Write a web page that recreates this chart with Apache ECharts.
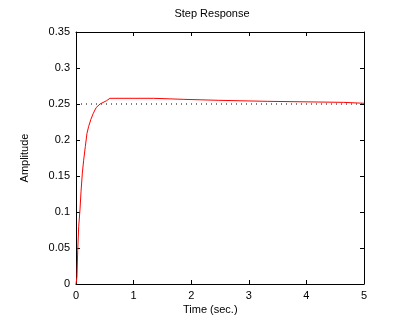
<!DOCTYPE html>
<html>
<head>
<meta charset="utf-8">
<script src="https://cdn.jsdelivr.net/npm/echarts@6/dist/echarts.min.js"></script>
<style>html,body{margin:0;padding:0;background:#fff;}#c{width:404px;height:327px;}</style>
</head>
<body>
<div id="c"></div>
<script>
var titleText = "Step Response";
var xLabel = "Time (sec.)";
var yLabel = "Amplitude";
var timeValues = [0, 0.017, 0.03, 0.047, 0.069, 0.087, 0.11, 0.133, 0.162, 0.19, 0.22, 0.26, 0.3, 0.35, 0.417, 0.53, 0.59, 1.34, 1.34, 1.86, 1.86, 2.48, 2.48, 3.33, 3.33, 4.64, 4.64, 5];
var responseValues = [0, 0.01, 0.047, 0.08, 0.103, 0.128, 0.154, 0.172, 0.191, 0.209, 0.219, 0.229, 0.237, 0.245, 0.25, 0.2546, 0.2579, 0.2579, 0.2565, 0.2565, 0.2551, 0.2551, 0.2537, 0.2537, 0.2523, 0.2523, 0.251, 0.251];
var finalValue = 0.25;
var xTicks = [0, 1, 2, 3, 4, 5];
var yTicks = [0, 0.05, 0.1, 0.15, 0.2, 0.25, 0.3, 0.35];

var font = "'Liberation Sans', Arial, sans-serif";
var chart = echarts.init(document.getElementById('c'), null, {renderer: 'canvas'});
var line = timeValues.map(function (t, i) { return [t, responseValues[i]]; });
function axisCommon() {
  return {
    axisLine: {show: true, onZero: false, lineStyle: {color: '#000', width: 1}},
    axisTick: {show: true, inside: true, length: 4, lineStyle: {color: '#000', width: 1}},
    splitLine: {show: false}
  };
}
chart.setOption({
  animation: false,
  backgroundColor: '#fff',
  title: {
    text: titleText, left: 207, top: 3, textAlign: 'center',
    textStyle: {fontFamily: font, fontSize: 11, fontWeight: 'normal', color: '#000'}
  },
  grid: {left: 76, right: 40, top: 32, bottom: 43},
  graphic: [
    {type: 'text', left: 183, top: 304, style: {text: xLabel, font: '11px ' + font, fill: '#000'}},
    {type: 'text', x: 25, y: 158, rotation: Math.PI / 2, style: {text: yLabel, font: '11px ' + font, fill: '#000', align: 'center', verticalAlign: 'middle'}}
  ],
  xAxis: [
    Object.assign(axisCommon(), {type: 'value', min: xTicks[0], max: xTicks[xTicks.length - 1], interval: 1, position: 'bottom',
      axisLabel: {color: '#000', fontFamily: font, fontSize: 11, margin: 6}}),
    Object.assign(axisCommon(), {type: 'value', min: 0, max: 5, interval: 1, position: 'top', axisLabel: {show: false}})
  ],
  yAxis: [
    Object.assign(axisCommon(), {type: 'value', min: yTicks[0], max: yTicks[yTicks.length - 1], interval: 0.05, position: 'left',
      axisLabel: {color: '#000', fontFamily: font, fontSize: 11, margin: 6,
        formatter: function (v) { return String(Math.round(v * 100) / 100); }}}),
    Object.assign(axisCommon(), {type: 'value', min: 0, max: 0.35, interval: 0.05, position: 'right', axisLabel: {show: false}})
  ],
  series: [
    {type: 'line', data: [[xTicks[0], finalValue], [xTicks[xTicks.length - 1], finalValue]], symbol: 'none',
      lineStyle: {color: '#000', width: 1, type: [1, 4]}, silent: true, z: 1},
    {type: 'line', data: line, symbol: 'none', lineStyle: {color: '#ff0000', width: 1}, z: 2}
  ]
});
</script>
</body>
</html>
